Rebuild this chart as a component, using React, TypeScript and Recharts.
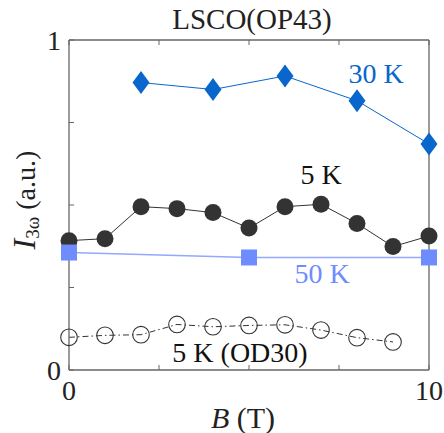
import React from "react";
import { LineChart, Line, XAxis, YAxis, ReferenceDot, Label } from "recharts";

// ---- data ----
const fieldsOP30K = [2, 4, 6, 8, 10];
const valuesOP30K = [0.871, 0.85, 0.891, 0.816, 0.685];

const fieldsOP5K = [0, 1, 2, 3, 4, 5, 6, 7, 8, 9, 10];
const valuesOP5K = [0.392, 0.398, 0.495, 0.489, 0.477, 0.43, 0.495, 0.502, 0.444, 0.374, 0.406];

const fieldsOP50K = [0, 5, 10];
const valuesOP50K = [0.356, 0.341, 0.341];

const fieldsOD5K = [0, 1, 2, 3, 4, 5, 6, 7, 8, 9];
const valuesOD5K = [0.099, 0.105, 0.107, 0.138, 0.131, 0.135, 0.137, 0.121, 0.098, 0.085];

const xTicks = [0, 2.5, 5, 7.5, 10];
const yTicks = [0, 0.25, 0.5, 0.75, 1];
const xLabelled = [0, 10];
const yLabelled = [0, 1];
const X_MIN = 0;
const X_MAX = 10;
const Y_MIN = 0;
const Y_MAX = 1;

const seriesLabels = ["30 K", "5 K", "50 K", "5 K (OD30)"];
const labelX = [8.53, 7.0, 7.03, 4.75];
const labelY = [0.9, 0.594, 0.294, 0.054];

const title = "LSCO(OP43)";

const toRows = (xs: number[], vs: number[]) => xs.map((x, i) => ({ x, v: vs[i] }));
const d30 = toRows(fieldsOP30K, valuesOP30K);
const d5 = toRows(fieldsOP5K, valuesOP5K);
const d50 = toRows(fieldsOP50K, valuesOP50K);
const dOD = toRows(fieldsOD5K, valuesOD5K);

const AXIS = "#666";
const C30 = "#0866cc";
const C50 = "#6f8cff";
const C50L = "#93a8ff";
const CK = "#333333";

const Diamond = (p: any) => {
  const { cx, cy } = p;
  if (cx == null || cy == null) return null;
  return (
    <polygon
      points={`${cx},${cy - 11.5} ${cx + 8.5},${cy} ${cx},${cy + 11.5} ${cx - 8.5},${cy}`}
      fill={C30}
    />
  );
};
const Square = (p: any) => {
  const { cx, cy } = p;
  if (cx == null || cy == null) return null;
  return <rect x={cx - 8} y={cy - 8} width={16} height={16} fill={C50} />;
};
const FilledCircle = (p: any) => {
  const { cx, cy } = p;
  if (cx == null || cy == null) return null;
  return <circle cx={cx} cy={cy} r={8.5} fill={CK} />;
};
const OpenCircle = (p: any) => {
  const { cx, cy } = p;
  if (cx == null || cy == null) return null;
  return <circle cx={cx} cy={cy} r={8.3} fill="none" stroke={CK} strokeWidth={1.1} />;
};

const labelColors = [C30, "#111", C50, "#111"];

const XTitle = (p: any) => {
  const vb = p.viewBox || { x: 69, y: 370, width: 360, height: 63 };
  return (
    <text x={vb.x + vb.width / 2 - 6} y={vb.y + 58} textAnchor="middle" fontSize={30} fill="#222">
      <tspan fontStyle="italic">B</tspan>
      <tspan> (T)</tspan>
    </text>
  );
};
const YTitle = (p: any) => {
  const vb = p.viewBox || { x: 0, y: 40, width: 69, height: 330 };
  const cx = vb.x + 35;
  const cy = vb.y + vb.height / 2 - 5;
  return (
    <text x={cx} y={cy} transform={`rotate(-90 ${cx} ${cy})`} textAnchor="middle" fill="#222">
      <tspan fontStyle="italic" fontSize={32}>I</tspan>
      <tspan fontSize={19} dy={4}>3ω</tspan>
      <tspan fontSize={28} dy={-4}> (a.u.)</tspan>
    </text>
  );
};
const TopTitle = (p: any) => {
  const vb = p.viewBox || { x: 69, y: 30, width: 360, height: 10 };
  return (
    <text x={vb.x + vb.width / 2 + 3} y={vb.y - 1} textAnchor="middle" fontSize={29} fill="#222">
      {title}
    </text>
  );
};

export default function App() {
  return (
    <div style={{ position: "absolute", left: 0, top: 0, width: 444, height: 433 }}>
      <LineChart width={444} height={433} data={d5} margin={{ top: 30, right: 5, bottom: 0, left: 0 }}>
        <XAxis
          dataKey="x"
          type="number"
          domain={[X_MIN, X_MAX]}
          ticks={xTicks}
          interval={0}
          height={63}
          tickSize={-5}
          tickMargin={15}
          tickFormatter={(v: number) => (xLabelled.includes(v) ? String(v) : "")}
          tick={{ fontSize: 28, fill: "#222" }}
          tickLine={{ stroke: AXIS }}
          axisLine={{ stroke: AXIS, strokeWidth: 1.3 }}
        >
          <Label content={<XTitle />} />
        </XAxis>
        <XAxis
          xAxisId="t"
          orientation="top"
          dataKey="x"
          type="number"
          domain={[X_MIN, X_MAX]}
          ticks={xTicks}
          interval={0}
          height={10}
          tickSize={-5}
          tickFormatter={() => ""}
          tickLine={{ stroke: AXIS }}
          axisLine={{ stroke: AXIS, strokeWidth: 1.3 }}
        >
          <Label content={<TopTitle />} />
        </XAxis>
        <YAxis
          type="number"
          domain={[Y_MIN, Y_MAX]}
          ticks={yTicks}
          interval={0}
          width={69}
          tickSize={-5}
          tickMargin={13}
          tickFormatter={(v: number) => (yLabelled.includes(v) ? String(v) : "")}
          tick={{ fontSize: 28, fill: "#222" }}
          tickLine={{ stroke: AXIS }}
          axisLine={{ stroke: AXIS, strokeWidth: 1.3 }}
        >
          <Label content={<YTitle />} />
        </YAxis>
        <YAxis
          yAxisId="r"
          orientation="right"
          type="number"
          domain={[Y_MIN, Y_MAX]}
          ticks={yTicks}
          interval={0}
          width={10}
          tickSize={-5}
          tickFormatter={() => ""}
          tickLine={{ stroke: AXIS }}
          axisLine={{ stroke: AXIS, strokeWidth: 1.3 }}
        />
        <Line
          data={dOD}
          dataKey="v"
          stroke={CK}
          strokeWidth={1}
          strokeDasharray="6 3 1.5 3"
          dot={<OpenCircle />}
          activeDot={false}
          isAnimationActive={false}
        />
        <Line
          dataKey="v"
          stroke={CK}
          strokeWidth={1}
          dot={<FilledCircle />}
          activeDot={false}
          isAnimationActive={false}
        />
        <Line
          data={d50}
          dataKey="v"
          stroke={C50L}
          strokeWidth={1.6}
          dot={<Square />}
          activeDot={false}
          isAnimationActive={false}
        />
        <Line
          data={d30}
          dataKey="v"
          stroke={C30}
          strokeWidth={1}
          dot={<Diamond />}
          activeDot={false}
          isAnimationActive={false}
        />
        {seriesLabels.map((s, i) => (
          <ReferenceDot
            key={s}
            x={labelX[i]}
            y={labelY[i]}
            r={0}
            fill="none"
            stroke="none"
            ifOverflow="visible"
            label={{ value: s, position: "center", fill: labelColors[i], fontSize: 28 }}
          />
        ))}
      </LineChart>
    </div>
  );
}
